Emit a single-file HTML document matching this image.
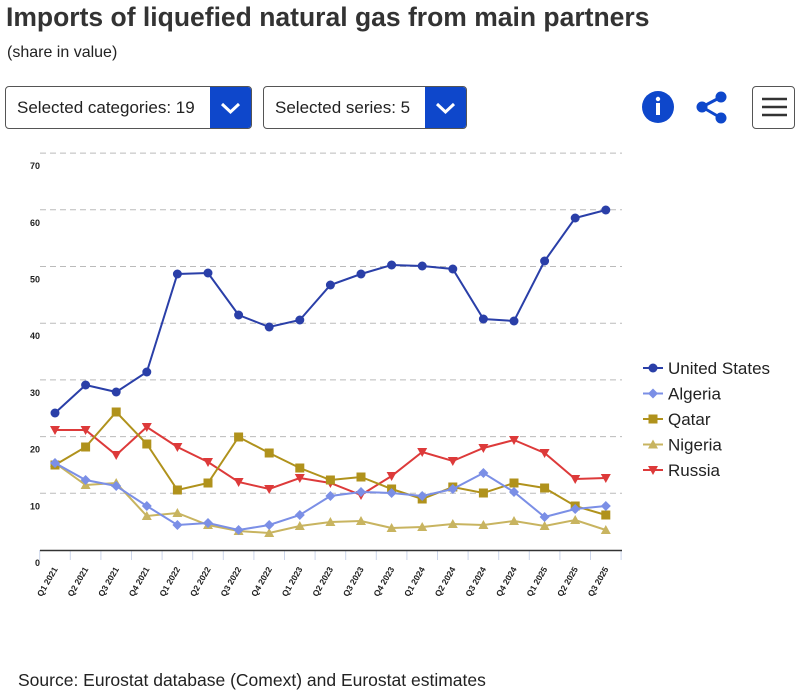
<!DOCTYPE html>
<html><head><meta charset="utf-8"><style>
body{margin:0;width:799px;height:694px;background:#fff;font-family:"Liberation Sans",Arial,sans-serif;position:relative;overflow:hidden}
h1{position:absolute;left:6px;top:2px;margin:0;font-size:26.5px;font-weight:bold;color:#333;white-space:nowrap}
.sub{position:absolute;left:7px;top:44px;font-size:16px;color:#222}
.btn{position:absolute;top:86px;height:43px;border:1px solid #555;border-radius:4px;box-sizing:border-box;font-size:17px;color:#222;line-height:41px;padding-left:11px;overflow:hidden}
.btn .dd{position:absolute;right:0;top:0;width:41px;height:43px;background:#0e47cb}
.src{position:absolute;left:18px;top:670px;font-size:17.5px;color:#222;white-space:nowrap}
</style></head><body>
<h1>Imports of liquefied natural gas from main partners</h1>
<div class="sub">(share in value)</div>
<div class="btn" style="left:5px;width:247px">Selected categories: 19<div class="dd"><svg width="41" height="42"><path d="M12 17 L20.5 25 L29 17" stroke="#fff" stroke-width="3" fill="none"/></svg></div></div>
<div class="btn" style="left:263px;width:204px">Selected series: 5<div class="dd"><svg width="41" height="42"><path d="M12 17 L20.5 25 L29 17" stroke="#fff" stroke-width="3" fill="none"/></svg></div></div>
<svg style="position:absolute;left:640px;top:88px" width="40" height="40"><circle cx="18" cy="19" r="16" fill="#0e47cb"/><circle cx="18" cy="11" r="2.2" fill="#fff"/><rect x="16" y="15" width="4" height="12" fill="#fff"/></svg>
<svg style="position:absolute;left:694px;top:88px" width="40" height="40"><g fill="#0e47cb"><circle cx="27" cy="9" r="5.5"/><circle cx="8" cy="19" r="5.5"/><circle cx="27" cy="30" r="5.5"/></g><path d="M27 9 L8 19 L27 30" stroke="#0e47cb" stroke-width="3" fill="none"/></svg>
<div class="btn" style="left:752px;width:43px;padding:0"><svg width="43" height="42"><path d="M9 12H34M9 20H34M9 28H34" stroke="#333" stroke-width="2.5"/></svg></div>
<svg style="position:absolute;left:0;top:0" width="799" height="694" id="c"></svg>
<div class="src">Source: Eurostat database (Comext) and Eurostat estimates</div>
<script>
var s='',ns='';
for(var i=0;i<=7;i++){var y=550-i*56.7;
 if(i>0)s+='<line x1="40" x2="622" y1="'+y+'" y2="'+y+'" stroke="#bbb" stroke-dasharray="6,4"/>';
 s+='<text x="40" y="'+(y+16)+'" font-size="9" font-weight="bold" text-anchor="end" fill="#222">'+(i*10)+'</text>';}
var qs=['Q1','Q2','Q3','Q4'];
function X(i){return 55+i*30.6}
for(var i=0;i<=19;i++){var x=X(i)-15.3;s+='<line x1="'+x+'" x2="'+x+'" y1="550" y2="560" stroke="#ccd6eb"/>';}
s+='<line x1="40" x2="622" y1="550.5" y2="550.5" stroke="#333" stroke-width="1.5"/>';
for(var i=0;i<19;i++){var lab=qs[i%4]+' '+(2021+Math.floor(i/4));var x=X(i);
 s+='<text transform="translate('+(x+3)+',569) rotate(-60)" font-size="8.5" font-weight="bold" text-anchor="end" fill="#222">'+lab+'</text>';}
var D=[
['#2a3fa8','c',[413,385,392,372,274,273,315,327,320,285,274,265,266,269,319,321,261,218,210]],
['#7b8fe6','d',[463,480,486,506,525,523,530,525,515,496,492,493,496,489,473,492,517,509,506]],
['#b0921c','s',[465,447,412,444,490,483,437,453,468,480,477,489,499,487,493,483,488,506,515]],
['#c8b460','t',[463,485,483,516,513,525,531,533,526,522,521,528,527,524,525,521,526,520,530]],
['#dd3a3a','v',[430,430,455,427,447,462,482,489,478,483,495,476,452,461,448,440,453,479,478]]];
function M(t,x,y,c){
 if(t=='c')return '<circle cx="'+x+'" cy="'+y+'" r="4.5" fill="'+c+'"/>';
 if(t=='d')return '<path d="M'+x+' '+(y-5)+'L'+(x+5)+' '+y+'L'+x+' '+(y+5)+'L'+(x-5)+' '+y+'Z" fill="'+c+'"/>';
 if(t=='s')return '<rect x="'+(x-4.5)+'" y="'+(y-4.5)+'" width="9" height="9" fill="'+c+'"/>';
 if(t=='t')return '<path d="M'+x+' '+(y-5)+'L'+(x+5)+' '+(y+4)+'L'+(x-5)+' '+(y+4)+'Z" fill="'+c+'"/>';
 return '<path d="M'+x+' '+(y+5)+'L'+(x+5)+' '+(y-4)+'L'+(x-5)+' '+(y-4)+'Z" fill="'+c+'"/>';}
for(var k=D.length-1;k>=0;k--){var d=D[k],p='';
 for(var i=0;i<19;i++)p+=(i?'L':'M')+X(i)+' '+d[2][i];
 s+='<path d="'+p+'" stroke="'+d[0]+'" stroke-width="2" fill="none"/>';
 for(var i=0;i<19;i++)s+=M(d[1],X(i),d[2][i],d[0]);}
var names=['United States','Algeria','Qatar','Nigeria','Russia'];
for(var k=0;k<5;k++){var y=368+k*25.5;
 s+='<line x1="643" x2="663" y1="'+y+'" y2="'+y+'" stroke="'+D[k][0]+'" stroke-width="2"/>'+M(D[k][1],653,y,D[k][0]);
 s+='<text x="668" y="'+(y+6)+'" font-size="17" fill="#222">'+names[k]+'</text>';}
document.getElementById('c').innerHTML=s;
</script>
</body></html>
